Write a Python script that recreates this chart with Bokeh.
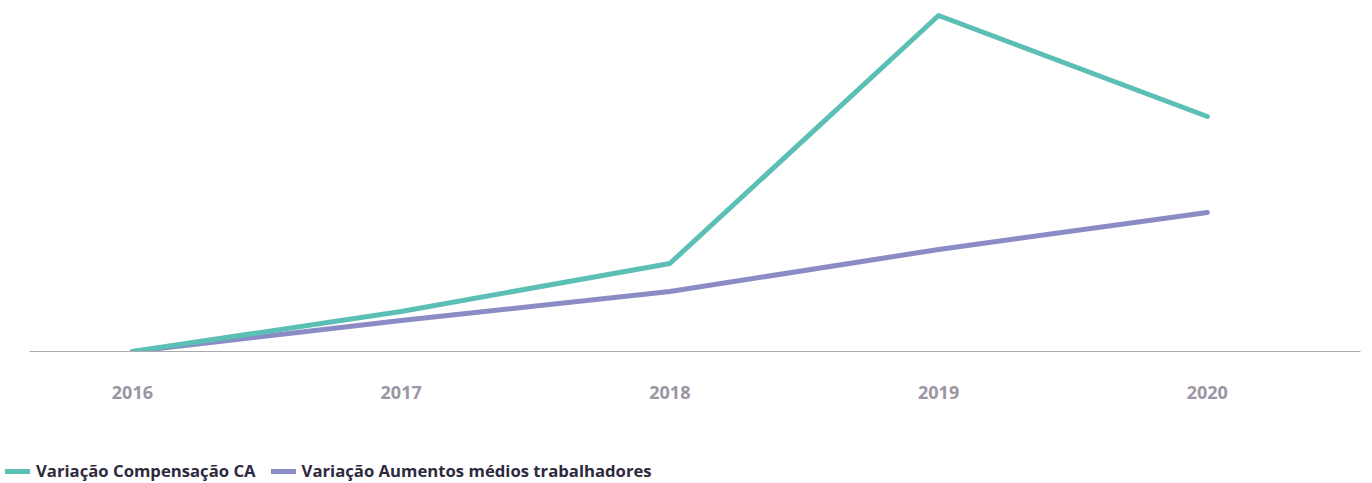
from bokeh.plotting import figure
from bokeh.models import Legend, LegendItem, FixedTicker, Range1d
from bokeh.embed import file_html
from bokeh.resources import INLINE

years = [2016, 2017, 2018, 2019, 2020]
tick_labels = ["2016", "2017", "2018", "2019", "2020"]
comp_ca = [0.0, 4.0, 8.8, 33.6, 23.5]
aumentos = [0.0, 3.1, 6.0, 10.2, 13.9]
series_names = ["Variação Compensação CA", "Variação Aumentos médios trabalhadores"]

TEAL = "#5cbfb5"
PURPLE = "#8b8bc6"

p = figure(width=1364, height=420, output_backend="svg", toolbar_location=None,
           x_range=Range1d(2015.617, 2020.57), y_range=Range1d(0, 34.1),
           min_border_left=29, min_border_right=4, min_border_top=10, min_border_bottom=69)
p.outline_line_color = None
p.xgrid.visible = False
p.ygrid.visible = False
p.yaxis.visible = False

p.line(years, aumentos, line_color=PURPLE, line_width=5, line_cap="round", line_join="round")
p.line(years, comp_ca, line_color=TEAL, line_width=5, line_cap="round", line_join="round")

ax = p.xaxis[0]
ax.ticker = FixedTicker(ticks=years)
ax.major_label_overrides = {y: t for y, t in zip(years, tick_labels)}
ax.axis_line_color = "#aaaaaa"
ax.axis_line_width = 1
ax.major_tick_line_color = None
ax.minor_tick_line_color = None
ax.major_label_standoff = 28
ax.major_label_text_font = "Open Sans"
ax.major_label_text_font_style = "bold"
ax.major_label_text_font_size = "18px"
ax.major_label_text_color = "#9b96a3"

# legend strip below the chart (series drawn off-screen, only their legend is seen)
p2 = figure(width=1364, height=63, output_backend="svg", toolbar_location=None,
            x_range=Range1d(3000, 3001), y_range=Range1d(0, 1),
            min_border_left=0, min_border_right=0, min_border_top=0, min_border_bottom=0)
p2.outline_line_color = None
p2.axis.visible = False
p2.grid.visible = False
l1 = p2.line(years, comp_ca, line_color=TEAL, line_width=5, line_cap="round")
l2 = p2.line(years, aumentos, line_color=PURPLE, line_width=5, line_cap="round")

legend = Legend(items=[LegendItem(label=series_names[0], renderers=[l1]),
                       LegendItem(label=series_names[1], renderers=[l2])],
                orientation="horizontal", location=(5, 1),
                padding=0, margin=0, spacing=15, glyph_width=25, glyph_height=18,
                label_height=18, label_standoff=6,
                label_text_font="Open Sans", label_text_font_style="bold",
                label_text_font_size="16.7px", label_text_color="#2d2a3e",
                background_fill_alpha=0, border_line_color=None)
p2.add_layout(legend, "center")

open("out.html", "w").write(file_html([p, p2], INLINE))
